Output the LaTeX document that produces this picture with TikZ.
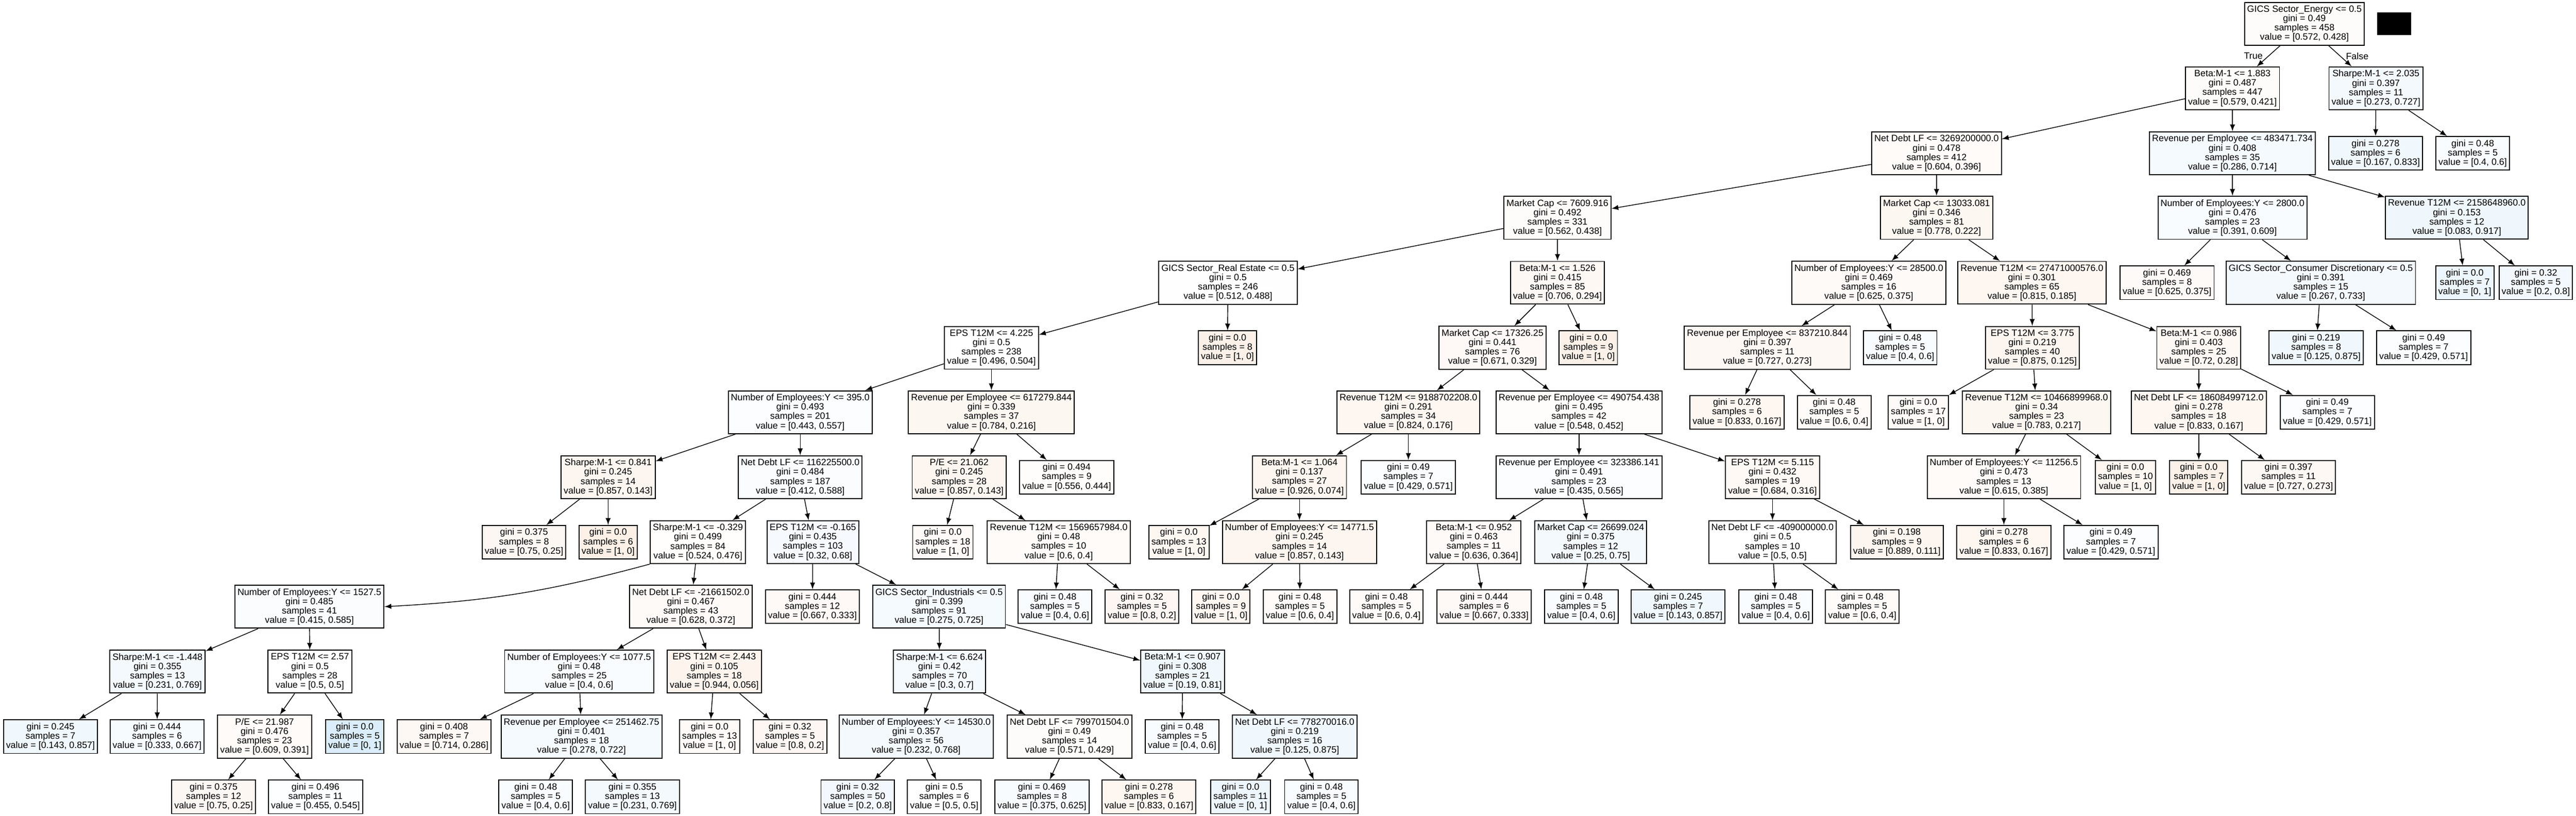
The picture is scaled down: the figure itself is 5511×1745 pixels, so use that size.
\documentclass[tikz,border=0pt]{standalone}
\usepackage{fontspec}
\setmainfont{Liberation Sans}
\usetikzlibrary{arrows}
\definecolor{classzero}{RGB}{229,129,57}
\definecolor{classone}{RGB}{57,157,229}
\tikzset{classfill/.code 2 args={%
    \pgfmathsetmacro\filltint{9*abs(#1-#2)/max(#1,#2)}%
    \pgfmathtruncatemacro\fillside{#2>#1}%
    \ifnum\fillside=1 \edef\fillcmd{\noexpand\pgfkeysalso{fill=classone!\filltint!white}}%
    \else \edef\fillcmd{\noexpand\pgfkeysalso{fill=classzero!\filltint!white}}\fi
    \fillcmd}}

\begin{document}
\begin{tikzpicture}[>=latex,x=0.01cm,y=-0.01cm,
    box/.style={draw,line width=0.6pt,rectangle,align=center,inner xsep=1.6pt,inner ysep=1.9pt,font=\fontsize{5.6}{5.7}\selectfont},
    branch/.style={->,line width=0.45pt}]
	\useasboundingbox (0,0) rectangle (5511,1745);
	\fill[white] (0,0) rectangle (5511,1745);
	% Radice
	\node[box,classfill={0.572}{0.428}] (root) at (4930,51) {GICS Sector\_Energy <= 0.5\\gini = 0.49\\samples = 458\\value = [0.572, 0.428]};
	\fill (5085,26) rectangle (5158,75);
	% Livello 1
	\node[box,classfill={0.579}{0.421}] (b1883) at (4776,189) {Beta:M-1 <= 1.883\\gini = 0.487\\samples = 447\\value = [0.579, 0.421]};
	\node[box,classfill={0.273}{0.727}] (s2035) at (5083,189) {Sharpe:M-1 <= 2.035\\gini = 0.397\\samples = 11\\value = [0.273, 0.727]};
	% Livello 2
	\node[box,classfill={0.604}{0.396}] (nd3269) at (4143,328) {Net Debt LF <= 3269200000.0\\gini = 0.478\\samples = 412\\value = [0.604, 0.396]};
	\node[box,classfill={0.286}{0.714}] (rpe483) at (4776,328) {Revenue per Employee <= 483471.734\\gini = 0.408\\samples = 35\\value = [0.286, 0.714]};
	\node[box,classfill={0.167}{0.833}] (l1) at (5082,328) {gini = 0.278\\samples = 6\\value = [0.167, 0.833]};
	\node[box,classfill={0.4}{0.6}] (l2) at (5290,328) {gini = 0.48\\samples = 5\\value = [0.4, 0.6]};
	% Livello 3
	\node[box,classfill={0.562}{0.438}] (mc7609) at (3332,466) {Market Cap <= 7609.916\\gini = 0.492\\samples = 331\\value = [0.562, 0.438]};
	\node[box,classfill={0.778}{0.222}] (mc13033) at (4143,466) {Market Cap <= 13033.081\\gini = 0.346\\samples = 81\\value = [0.778, 0.222]};
	\node[box,classfill={0.391}{0.609}] (ne2800) at (4776,466) {Number of Employees:Y <= 2800.0\\gini = 0.476\\samples = 23\\value = [0.391, 0.609]};
	\node[box,classfill={0.083}{0.917}] (rt2158) at (5256,466) {Revenue T12M <= 2158648960.0\\gini = 0.153\\samples = 12\\value = [0.083, 0.917]};
	% Livello 4
	\node[box,classfill={0.512}{0.488}] (gre) at (2627,605) {GICS Sector\_Real Estate <= 0.5\\gini = 0.5\\samples = 246\\value = [0.512, 0.488]};
	\node[box,classfill={0.706}{0.294}] (b1526) at (3332,605) {Beta:M-1 <= 1.526\\gini = 0.415\\samples = 85\\value = [0.706, 0.294]};
	\node[box,classfill={0.625}{0.375}] (ne28500) at (3998,605) {Number of Employees:Y <= 28500.0\\gini = 0.469\\samples = 16\\value = [0.625, 0.375]};
	\node[box,classfill={0.815}{0.185}] (rt27471) at (4347,605) {Revenue T12M <= 27471000576.0\\gini = 0.301\\samples = 65\\value = [0.815, 0.185]};
	\node[box,classfill={0.625}{0.375}] (l3) at (4636,605) {gini = 0.469\\samples = 8\\value = [0.625, 0.375]};
	\node[box,classfill={0.267}{0.733}] (gcd) at (4965,605) {GICS Sector\_Consumer Discretionary <= 0.5\\gini = 0.391\\samples = 15\\value = [0.267, 0.733]};
	\node[box,classfill={0}{1}] (l4) at (5273,605) {gini = 0.0\\samples = 7\\value = [0, 1]};
	\node[box,classfill={0.2}{0.8}] (l5) at (5425,605) {gini = 0.32\\samples = 5\\value = [0.2, 0.8]};
	% Livello 5
	\node[box,classfill={0.496}{0.504}] (eps4225) at (2121,744) {EPS T12M <= 4.225\\gini = 0.5\\samples = 238\\value = [0.496, 0.504]};
	\node[box,classfill={1}{0},fill=classzero!11!white] (l6) at (2626,744) {gini = 0.0\\samples = 8\\value = [1, 0]};
	\node[box,classfill={0.671}{0.329}] (mc17326) at (3193,744) {Market Cap <= 17326.25\\gini = 0.441\\samples = 76\\value = [0.671, 0.329]};
	\node[box,classfill={1}{0},fill=classzero!11!white] (l7) at (3398,744) {gini = 0.0\\samples = 9\\value = [1, 0]};
	\node[box,classfill={0.727}{0.273}] (rpe837) at (3781,744) {Revenue per Employee <= 837210.844\\gini = 0.397\\samples = 11\\value = [0.727, 0.273]};
	\node[box,classfill={0.4}{0.6}] (l8) at (4065,744) {gini = 0.48\\samples = 5\\value = [0.4, 0.6]};
	\node[box,classfill={0.875}{0.125}] (eps3775) at (4348,744) {EPS T12M <= 3.775\\gini = 0.219\\samples = 40\\value = [0.875, 0.125]};
	\node[box,classfill={0.72}{0.28}] (b0986) at (4704,744) {Beta:M-1 <= 0.986\\gini = 0.403\\samples = 25\\value = [0.72, 0.28]};
	\node[box,classfill={0.125}{0.875}] (l9) at (4955,744) {gini = 0.219\\samples = 8\\value = [0.125, 0.875]};
	\node[box,classfill={0.429}{0.571}] (l10) at (5185,744) {gini = 0.49\\samples = 7\\value = [0.429, 0.571]};
	% Livello 6
	\node[box,classfill={0.443}{0.557}] (ne395) at (1712,882) {Number of Employees:Y <= 395.0\\gini = 0.493\\samples = 201\\value = [0.443, 0.557]};
	\node[box,classfill={0.784}{0.216}] (rpe617) at (2121,882) {Revenue per Employee <= 617279.844\\gini = 0.339\\samples = 37\\value = [0.784, 0.216]};
	\node[box,classfill={0.824}{0.176}] (rt9188) at (3013,882) {Revenue T12M <= 9188702208.0\\gini = 0.291\\samples = 34\\value = [0.824, 0.176]};
	\node[box,classfill={0.548}{0.452}] (rpe490) at (3378,882) {Revenue per Employee <= 490754.438\\gini = 0.495\\samples = 42\\value = [0.548, 0.452]};
	\node[box,classfill={0.833}{0.167}] (l11) at (3716,882) {gini = 0.278\\samples = 6\\value = [0.833, 0.167]};
	\node[box,classfill={0.6}{0.4}] (l12) at (3924,882) {gini = 0.48\\samples = 5\\value = [0.6, 0.4]};
	\node[box,classfill={1}{0},fill=classzero!4!white] (l13) at (4104,882) {gini = 0.0\\samples = 17\\value = [1, 0]};
	\node[box,classfill={0.783}{0.217}] (rt10466) at (4357,882) {Revenue T12M <= 10466899968.0\\gini = 0.34\\samples = 23\\value = [0.783, 0.217]};
	\node[box,classfill={0.833}{0.167}] (nd18608) at (4704,882) {Net Debt LF <= 18608499712.0\\gini = 0.278\\samples = 18\\value = [0.833, 0.167]};
	\node[box,classfill={0.429}{0.571}] (l14) at (4979,882) {gini = 0.49\\samples = 7\\value = [0.429, 0.571]};
	% Livello 7
	\node[box,classfill={0.857}{0.143}] (sh0841) at (1301,1021) {Sharpe:M-1 <= 0.841\\gini = 0.245\\samples = 14\\value = [0.857, 0.143]};
	\node[box,classfill={0.412}{0.588}] (nd116) at (1712,1021) {Net Debt LF <= 116225500.0\\gini = 0.484\\samples = 187\\value = [0.412, 0.588]};
	\node[box,classfill={0.857}{0.143}] (pe21062) at (2052,1021) {P/E <= 21.062\\gini = 0.245\\samples = 28\\value = [0.857, 0.143]};
	\node[box,classfill={0.556}{0.444}] (l15) at (2282,1021) {gini = 0.494\\samples = 9\\value = [0.556, 0.444]};
	\node[box,classfill={0.926}{0.074}] (b1064) at (2780,1021) {Beta:M-1 <= 1.064\\gini = 0.137\\samples = 27\\value = [0.926, 0.074]};
	\node[box,classfill={0.429}{0.571}] (l16) at (3013,1021) {gini = 0.49\\samples = 7\\value = [0.429, 0.571]};
	\node[box,classfill={0.435}{0.565}] (rpe323) at (3378,1021) {Revenue per Employee <= 323386.141\\gini = 0.491\\samples = 23\\value = [0.435, 0.565]};
	\node[box,classfill={0.684}{0.316}] (eps5115) at (3792,1021) {EPS T12M <= 5.115\\gini = 0.432\\samples = 19\\value = [0.684, 0.316]};
	\node[box,classfill={0.615}{0.385}] (ne11256) at (4287,1021) {Number of Employees:Y <= 11256.5\\gini = 0.473\\samples = 13\\value = [0.615, 0.385]};
	\node[box,classfill={1}{0},fill=classzero!7!white] (l17) at (4547,1021) {gini = 0.0\\samples = 10\\value = [1, 0]};
	\node[box,classfill={1}{0},fill=classzero!11!white] (l18) at (4704,1021) {gini = 0.0\\samples = 7\\value = [1, 0]};
	\node[box,classfill={0.727}{0.273}] (l19) at (4896,1021) {gini = 0.397\\samples = 11\\value = [0.727, 0.273]};
	% Livello 8
	\node[box,classfill={0.75}{0.25}] (l20) at (1121,1160) {gini = 0.375\\samples = 8\\value = [0.75, 0.25]};
	\node[box,classfill={1}{0},fill=classzero!12!white] (l21) at (1301,1160) {gini = 0.0\\samples = 6\\value = [1, 0]};
	\node[box,classfill={0.524}{0.476}] (sh0329) at (1493,1160) {Sharpe:M-1 <= -0.329\\gini = 0.499\\samples = 84\\value = [0.524, 0.476]};
	\node[box,classfill={0.32}{0.68}] (eps0165) at (1739,1160) {EPS T12M <= -0.165\\gini = 0.435\\samples = 103\\value = [0.32, 0.68]};
	\node[box,classfill={1}{0},fill=classzero!4!white] (l22) at (2017,1160) {gini = 0.0\\samples = 18\\value = [1, 0]};
	\node[box,classfill={0.6}{0.4}] (rt1569) at (2265,1160) {Revenue T12M <= 1569657984.0\\gini = 0.48\\samples = 10\\value = [0.6, 0.4]};
	\node[box,classfill={1}{0},fill=classzero!7!white] (l23) at (2522,1160) {gini = 0.0\\samples = 13\\value = [1, 0]};
	\node[box,classfill={0.857}{0.143}] (ne14771) at (2780,1160) {Number of Employees:Y <= 14771.5\\gini = 0.245\\samples = 14\\value = [0.857, 0.143]};
	\node[box,classfill={0.636}{0.364}] (b0952) at (3153,1160) {Beta:M-1 <= 0.952\\gini = 0.463\\samples = 11\\value = [0.636, 0.364]};
	\node[box,classfill={0.25}{0.75}] (mc26699) at (3403,1160) {Market Cap <= 26699.024\\gini = 0.375\\samples = 12\\value = [0.25, 0.75]};
	\node[box,classfill={0.5}{0.5}] (nd409) at (3792,1160) {Net Debt LF <= -409000000.0\\gini = 0.5\\samples = 10\\value = [0.5, 0.5]};
	\node[box,classfill={0.889}{0.111}] (l24) at (4058,1160) {gini = 0.198\\samples = 9\\value = [0.889, 0.111]};
	\node[box,classfill={0.833}{0.167}] (l25) at (4287,1160) {gini = 0.278\\samples = 6\\value = [0.833, 0.167]};
	\node[box,classfill={0.429}{0.571}] (l26) at (4516,1160) {gini = 0.49\\samples = 7\\value = [0.429, 0.571]};
	% Livello 9
	\node[box,classfill={0.415}{0.585}] (ne1527) at (662,1298) {Number of Employees:Y <= 1527.5\\gini = 0.485\\samples = 41\\value = [0.415, 0.585]};
	\node[box,classfill={0.628}{0.372}] (nd216) at (1478,1298) {Net Debt LF <= -21661502.0\\gini = 0.467\\samples = 43\\value = [0.628, 0.372]};
	\node[box,classfill={0.667}{0.333}] (l27) at (1738,1298) {gini = 0.444\\samples = 12\\value = [0.667, 0.333]};
	\node[box,classfill={0.275}{0.725}] (gind) at (2009,1298) {GICS Sector\_Industrials <= 0.5\\gini = 0.399\\samples = 91\\value = [0.275, 0.725]};
	\node[box,classfill={0.4}{0.6}] (l28) at (2257,1298) {gini = 0.48\\samples = 5\\value = [0.4, 0.6]};
	\node[box,classfill={0.8}{0.2}] (l29) at (2443,1298) {gini = 0.32\\samples = 5\\value = [0.8, 0.2]};
	\node[box,classfill={1}{0},fill=classzero!7!white] (l30) at (2612,1298) {gini = 0.0\\samples = 9\\value = [1, 0]};
	\node[box,classfill={0.6}{0.4}] (l31) at (2781,1298) {gini = 0.48\\samples = 5\\value = [0.6, 0.4]};
	\node[box,classfill={0.6}{0.4}] (l32) at (2966,1298) {gini = 0.48\\samples = 5\\value = [0.6, 0.4]};
	\node[box,classfill={0.667}{0.333}] (l33) at (3175,1298) {gini = 0.444\\samples = 6\\value = [0.667, 0.333]};
	\node[box,classfill={0.4}{0.6}] (l34) at (3383,1298) {gini = 0.48\\samples = 5\\value = [0.4, 0.6]};
	\node[box,classfill={0.143}{0.857}] (l35) at (3590,1298) {gini = 0.245\\samples = 7\\value = [0.143, 0.857]};
	\node[box,classfill={0.4}{0.6}] (l36) at (3799,1298) {gini = 0.48\\samples = 5\\value = [0.4, 0.6]};
	\node[box,classfill={0.6}{0.4}] (l37) at (3984,1298) {gini = 0.48\\samples = 5\\value = [0.6, 0.4]};
	% Livello 10
	\node[box,classfill={0.231}{0.769}] (sh1448) at (337,1437) {Sharpe:M-1 <= -1.448\\gini = 0.355\\samples = 13\\value = [0.231, 0.769]};
	\node[box,classfill={0.5}{0.5}] (eps257) at (663,1437) {EPS T12M <= 2.57\\gini = 0.5\\samples = 28\\value = [0.5, 0.5]};
	\node[box,classfill={0.4}{0.6}] (ne1077) at (1239,1437) {Number of Employees:Y <= 1077.5\\gini = 0.48\\samples = 25\\value = [0.4, 0.6]};
	\node[box,classfill={0.944}{0.056}] (eps2443) at (1528,1437) {EPS T12M <= 2.443\\gini = 0.105\\samples = 18\\value = [0.944, 0.056]};
	\node[box,classfill={0.3}{0.7}] (sh6624) at (2010,1437) {Sharpe:M-1 <= 6.624\\gini = 0.42\\samples = 70\\value = [0.3, 0.7]};
	\node[box,classfill={0.19}{0.81}] (b0907) at (2530,1437) {Beta:M-1 <= 0.907\\gini = 0.308\\samples = 21\\value = [0.19, 0.81]};
	% Livello 11
	\node[box,classfill={0.143}{0.857}] (l38) at (108,1576) {gini = 0.245\\samples = 7\\value = [0.143, 0.857]};
	\node[box,classfill={0.333}{0.667}] (l39) at (336,1576) {gini = 0.444\\samples = 6\\value = [0.333, 0.667]};
	\node[box,classfill={0.609}{0.391}] (pe21987) at (566,1576) {P/E <= 21.987\\gini = 0.476\\samples = 23\\value = [0.609, 0.391]};
	\node[box,classfill={0}{1},fill=classone!18!white] (l40) at (759,1576) {gini = 0.0\\samples = 5\\value = [0, 1]};
	\node[box,classfill={0.714}{0.286}] (l41) at (950,1576) {gini = 0.408\\samples = 7\\value = [0.714, 0.286]};
	\node[box,classfill={0.278}{0.722}] (rpe251) at (1244,1576) {Revenue per Employee <= 251462.75\\gini = 0.401\\samples = 18\\value = [0.278, 0.722]};
	\node[box,classfill={1}{0},fill=classzero!4!white] (l42) at (1518,1576) {gini = 0.0\\samples = 13\\value = [1, 0]};
	\node[box,classfill={0.8}{0.2}] (l43) at (1690,1576) {gini = 0.32\\samples = 5\\value = [0.8, 0.2]};
	\node[box,classfill={0.232}{0.768}] (ne14530) at (1960,1576) {Number of Employees:Y <= 14530.0\\gini = 0.357\\samples = 56\\value = [0.232, 0.768]};
	\node[box,classfill={0.571}{0.429}] (nd799) at (2288,1576) {Net Debt LF <= 799701504.0\\gini = 0.49\\samples = 14\\value = [0.571, 0.429]};
	\node[box,classfill={0.4}{0.6}] (l44) at (2529,1576) {gini = 0.48\\samples = 5\\value = [0.4, 0.6]};
	\node[box,classfill={0.125}{0.875}] (nd778) at (2770,1576) {Net Debt LF <= 778270016.0\\gini = 0.219\\samples = 16\\value = [0.125, 0.875]};
	% Livello 12
	\node[box,classfill={0.75}{0.25}] (l45) at (457,1705) {gini = 0.375\\samples = 12\\value = [0.75, 0.25]};
	\node[box,classfill={0.455}{0.545}] (l46) at (675,1705) {gini = 0.496\\samples = 11\\value = [0.455, 0.545]};
	\node[box,classfill={0.4}{0.6}] (l47) at (1146,1705) {gini = 0.48\\samples = 5\\value = [0.4, 0.6]};
	\node[box,classfill={0.231}{0.769}] (l48) at (1353,1705) {gini = 0.355\\samples = 13\\value = [0.231, 0.769]};
	\node[box,classfill={0.2}{0.8}] (l49) at (1835,1705) {gini = 0.32\\samples = 50\\value = [0.2, 0.8]};
	\node[box,classfill={0.5}{0.5}] (l50) at (2020,1705) {gini = 0.5\\samples = 6\\value = [0.5, 0.5]};
	\node[box,classfill={0.375}{0.625}] (l51) at (2229,1705) {gini = 0.469\\samples = 8\\value = [0.375, 0.625]};
	\node[box,classfill={0.833}{0.167}] (l52) at (2458,1705) {gini = 0.278\\samples = 6\\value = [0.833, 0.167]};
	\node[box,classfill={0}{1}] (l53) at (2654,1705) {gini = 0.0\\samples = 11\\value = [0, 1]};
	\node[box,classfill={0.4}{0.6}] (l54) at (2827,1705) {gini = 0.48\\samples = 5\\value = [0.4, 0.6]};

	% Rami
	\draw[branch] (root) -- node[left,font=\fontsize{5.6}{5.7}\selectfont] {True} (b1883);
	\draw[branch] (root) -- node[right,font=\fontsize{5.6}{5.7}\selectfont] {False} (s2035);
	\draw[branch] (b1883) -- (nd3269); \draw[branch] (b1883) -- (rpe483);
	\draw[branch] (s2035) -- (l1); \draw[branch] (s2035) -- (l2);
	\draw[branch] (nd3269) -- (mc7609); \draw[branch] (nd3269) -- (mc13033);
	\draw[branch] (rpe483) -- (ne2800); \draw[branch] (rpe483) -- (rt2158);
	\draw[branch] (mc7609) -- (gre); \draw[branch] (mc7609) -- (b1526);
	\draw[branch] (mc13033) -- (ne28500); \draw[branch] (mc13033) -- (rt27471);
	\draw[branch] (ne2800) -- (l3); \draw[branch] (ne2800) -- (gcd);
	\draw[branch] (rt2158) -- (l4); \draw[branch] (rt2158) -- (l5);
	\draw[branch] (gre) -- (eps4225); \draw[branch] (gre) -- (l6);
	\draw[branch] (b1526) -- (mc17326); \draw[branch] (b1526) -- (l7);
	\draw[branch] (ne28500) -- (rpe837); \draw[branch] (ne28500) -- (l8);
	\draw[branch] (rt27471) -- (eps3775); \draw[branch] (rt27471) -- (b0986);
	\draw[branch] (gcd) -- (l9); \draw[branch] (gcd) -- (l10);
	\draw[branch] (eps4225) -- (ne395); \draw[branch] (eps4225) -- (rpe617);
	\draw[branch] (mc17326) -- (rt9188); \draw[branch] (mc17326) -- (rpe490);
	\draw[branch] (rpe837) -- (l11); \draw[branch] (rpe837) -- (l12);
	\draw[branch] (eps3775) -- (l13); \draw[branch] (eps3775) -- (rt10466);
	\draw[branch] (b0986) -- (nd18608); \draw[branch] (b0986) -- (l14);
	\draw[branch] (ne395) -- (sh0841); \draw[branch] (ne395) -- (nd116);
	\draw[branch] (rpe617) -- (pe21062); \draw[branch] (rpe617) -- (l15);
	\draw[branch] (rt9188) -- (b1064); \draw[branch] (rt9188) -- (l16);
	\draw[branch] (rpe490) -- (rpe323); \draw[branch] (rpe490) -- (eps5115);
	\draw[branch] (rt10466) -- (ne11256); \draw[branch] (rt10466) -- (l17);
	\draw[branch] (nd18608) -- (l18); \draw[branch] (nd18608) -- (l19);
	\draw[branch] (sh0841) -- (l20); \draw[branch] (sh0841) -- (l21);
	\draw[branch] (nd116) -- (sh0329); \draw[branch] (nd116) -- (eps0165);
	\draw[branch] (pe21062) -- (l22); \draw[branch] (pe21062) -- (rt1569);
	\draw[branch] (b1064) -- (l23); \draw[branch] (b1064) -- (ne14771);
	\draw[branch] (rpe323) -- (b0952); \draw[branch] (rpe323) -- (mc26699);
	\draw[branch] (eps5115) -- (nd409); \draw[branch] (eps5115) -- (l24);
	\draw[branch] (ne11256) -- (l25); \draw[branch] (ne11256) -- (l26);
	\draw[branch] (sh0329.south west) to[bend left=6] (ne1527.east); \draw[branch] (sh0329) -- (nd216);
	\draw[branch] (eps0165) -- (l27); \draw[branch] (eps0165) -- (gind);
	\draw[branch] (rt1569) -- (l28); \draw[branch] (rt1569) -- (l29);
	\draw[branch] (ne14771) -- (l30); \draw[branch] (ne14771) -- (l31);
	\draw[branch] (b0952) -- (l32); \draw[branch] (b0952) -- (l33);
	\draw[branch] (mc26699) -- (l34); \draw[branch] (mc26699) -- (l35);
	\draw[branch] (nd409) -- (l36); \draw[branch] (nd409) -- (l37);
	\draw[branch] (ne1527) -- (sh1448); \draw[branch] (ne1527) -- (eps257);
	\draw[branch] (nd216) -- (ne1077); \draw[branch] (nd216) -- (eps2443);
	\draw[branch] (gind) -- (sh6624); \draw[branch] (gind) -- (b0907);
	\draw[branch] (sh1448) -- (l38); \draw[branch] (sh1448) -- (l39);
	\draw[branch] (eps257) -- (pe21987); \draw[branch] (eps257) -- (l40);
	\draw[branch] (ne1077) -- (l41); \draw[branch] (ne1077) -- (rpe251);
	\draw[branch] (eps2443) -- (l42); \draw[branch] (eps2443) -- (l43);
	\draw[branch] (sh6624) -- (ne14530); \draw[branch] (sh6624) -- (nd799);
	\draw[branch] (b0907) -- (l44); \draw[branch] (b0907) -- (nd778);
	\draw[branch] (pe21987) -- (l45); \draw[branch] (pe21987) -- (l46);
	\draw[branch] (rpe251) -- (l47); \draw[branch] (rpe251) -- (l48);
	\draw[branch] (ne14530) -- (l49); \draw[branch] (ne14530) -- (l50);
	\draw[branch] (nd799) -- (l51); \draw[branch] (nd799) -- (l52);
	\draw[branch] (nd778) -- (l53); \draw[branch] (nd778) -- (l54);
\end{tikzpicture}
\end{document}
